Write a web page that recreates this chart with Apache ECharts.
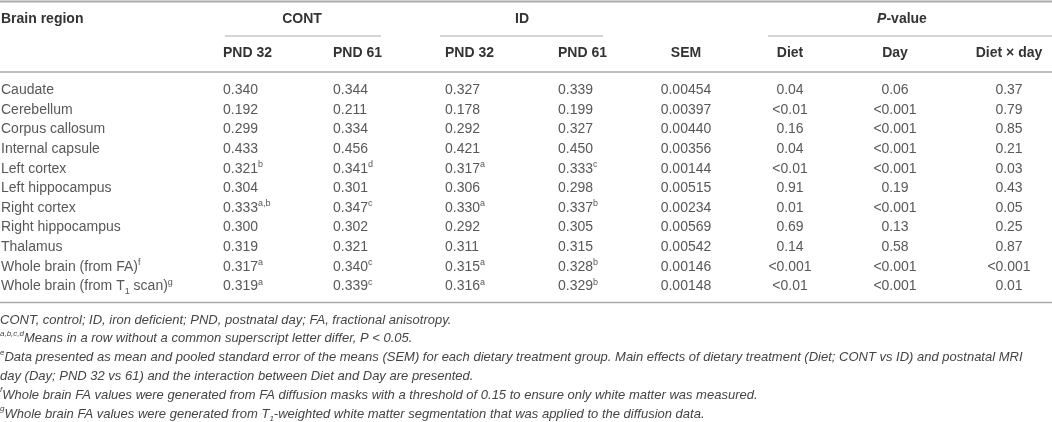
<!DOCTYPE html>
<html>
<head>
<meta charset="utf-8">
<script src="https://cdn.jsdelivr.net/npm/echarts@6/dist/echarts.min.js"></script>
<style>
html,body{margin:0;padding:0;background:#fff;}
#chart{width:1052px;height:422px;}
</style>
</head>
<body>
<div id="chart"></div>
<script>
// ---- data ----
const regions = ['Caudate','Cerebellum','Corpus callosum','Internal capsule','Left cortex','Left hippocampus','Right cortex','Right hippocampus','Thalamus','Whole brain (from FA)','Whole brain (from T1 scan)'];
const regionSup = ['','','','','','','','','','f','g'];
const contPND32 = [0.340,0.192,0.299,0.433,0.321,0.304,0.333,0.300,0.319,0.317,0.319];
const contPND32Sup = ['','','','','b','','a,b','','','a','a'];
const contPND61 = [0.344,0.211,0.334,0.456,0.341,0.301,0.347,0.302,0.321,0.340,0.339];
const contPND61Sup = ['','','','','d','','c','','','c','c'];
const idPND32 = [0.327,0.178,0.292,0.421,0.317,0.306,0.330,0.292,0.311,0.315,0.316];
const idPND32Sup = ['','','','','a','','a','','','a','a'];
const idPND61 = [0.339,0.199,0.327,0.450,0.333,0.298,0.337,0.305,0.315,0.328,0.329];
const idPND61Sup = ['','','','','c','','b','','','b','b'];
const sem = [0.00454,0.00397,0.00440,0.00356,0.00144,0.00515,0.00234,0.00569,0.00542,0.00146,0.00148];
const pDiet = ['0.04','<0.01','0.16','0.04','<0.01','0.91','0.01','0.69','0.14','<0.001','<0.01'];
const pDay = ['0.06','<0.001','<0.001','<0.001','<0.001','0.19','<0.001','0.13','0.58','<0.001','<0.001'];
const pInteraction = ['0.37','0.79','0.85','0.21','0.03','0.43','0.05','0.25','0.87','<0.001','0.01'];

const groupHeaders = ['CONT','ID','P-value'];
const subHeaders = ['PND 32','PND 61','PND 32','PND 61','SEM','Diet','Day','Diet × day'];
const firstHeader = 'Brain region';

const footnoteSups = ['', 'a,b,c,d', 'e', '', 'f', 'g'];
const footnoteTexts = [
  'CONT, control; ID, iron deficient; PND, postnatal day; FA, fractional anisotropy.',
  'Means in a row without a common superscript letter differ, P < 0.05.',
  'Data presented as mean and pooled standard error of the means (SEM) for each dietary treatment group. Main effects of dietary treatment (Diet; CONT vs ID) and postnatal MRI',
  'day (Day; PND 32 vs 61) and the interaction between Diet and Day are presented.',
  'Whole brain FA values were generated from FA diffusion masks with a threshold of 0.15 to ensure only white matter was measured.',
  'Whole brain FA values were generated from T1-weighted white matter segmentation that was applied to the diffusion data.'
];

// ---- styles / layout ----
const FONT = '"Liberation Sans", Arial, Helvetica, sans-serif';
const BODY = '#585858';
const HEAD = '#333333';
const LINE = '#ababab';
const richBody = {
  n: {fontSize:14, fontFamily:FONT, fill:BODY, lineHeight:18, verticalAlign:'middle'},
  s: {fontSize:9, fontFamily:FONT, fill:BODY, lineHeight:10, verticalAlign:'top'},
  sub: {fontSize:9, fontFamily:FONT, fill:BODY, lineHeight:8, verticalAlign:'bottom'}
};

function withSup(v, sup) {
  return '{n|' + v + '}' + (sup ? '{s|' + sup + '}' : '');
}
function subT1(str, key) {
  // render "T1" with subscript 1
  const parts = str.split('T1');
  if (parts.length === 1) return '{' + key + '|' + str + '}';
  return '{' + key + '|' + parts[0] + 'T}{sub|1}{' + key + '|' + parts[1] + '}';
}
function regionText(i) {
  return subT1(regions[i], 'n') + (regionSup[i] ? '{s|' + regionSup[i] + '}' : '');
}

const columns = [
  {x:1, align:'left', fmt:i => regionText(i)},
  {x:223, align:'left', fmt:i => withSup(contPND32[i].toFixed(3), contPND32Sup[i])},
  {x:333, align:'left', fmt:i => withSup(contPND61[i].toFixed(3), contPND61Sup[i])},
  {x:445, align:'left', fmt:i => withSup(idPND32[i].toFixed(3), idPND32Sup[i])},
  {x:558, align:'left', fmt:i => withSup(idPND61[i].toFixed(3), idPND61Sup[i])},
  {x:686, align:'center', fmt:i => withSup(sem[i].toFixed(5), '')},
  {x:790, align:'center', fmt:i => withSup(pDiet[i], '')},
  {x:895, align:'center', fmt:i => withSup(pDay[i], '')},
  {x:1009, align:'center', fmt:i => withSup(pInteraction[i], '')}
];

const series = columns.map(col => ({
  type:'custom',
  coordinateSystem:'cartesian2d',
  silent:true,
  data: regions.map((r, i) => [col.x, i]),
  encode:{x:0, y:1},
  renderItem:(params, api) => {
    const i = api.value(1);
    const p = api.coord([api.value(0), i]);
    return {
      type:'text',
      x:p[0], y:p[1],
      style:{
        text: col.fmt(i),
        rich: richBody,
        fontSize:14, fontFamily:FONT, fill:BODY,
        align: col.align, textAlign: col.align,
        verticalAlign:'middle', textVerticalAlign:'middle'
      }
    };
  }
}));

// header graphics
function txt(x, y, text, opt) {
  opt = opt || {};
  return {
    type:'text', x:x, y:y, silent:true,
    style:Object.assign({
      text:text, fontSize:14, fontFamily:FONT, fontWeight:'bold', fill:HEAD,
      align:opt.align||'left', textAlign:opt.align||'left',
      verticalAlign:'middle', textVerticalAlign:'middle'
    }, opt.style||{})
  };
}
function hline(x1, x2, y, w) {
  return {type:'line', silent:true, shape:{x1:x1, y1:y, x2:x2, y2:y}, style:{stroke:LINE, lineWidth:w||1}};
}

const graphics = [];
graphics.push(hline(0, 1052, 1.5, 2));
graphics.push(txt(1, 19, firstHeader));
graphics.push(txt(302, 19, groupHeaders[0], {align:'center'}));
graphics.push(txt(522, 19, groupHeaders[1], {align:'center'}));
graphics.push({
  type:'text', x:902, y:19, silent:true,
  style:{
    text:'{pi|' + groupHeaders[2].charAt(0) + '}{pb|' + groupHeaders[2].slice(1) + '}',
    rich:{
      pi:{fontSize:14, fontFamily:FONT, fontWeight:'bold', fontStyle:'italic', fill:HEAD},
      pb:{fontSize:14, fontFamily:FONT, fontWeight:'bold', fill:HEAD}
    },
    align:'center', textAlign:'center', verticalAlign:'middle', textVerticalAlign:'middle'
  }
});
graphics.push(hline(225, 381, 36, 1));
graphics.push(hline(440, 603, 36, 1));
graphics.push(hline(768, 1052, 36, 1));
const subX = [223, 333, 445, 558, 686, 790, 895, 1009];
const subAlign = ['left','left','left','left','center','center','center','center'];
subHeaders.forEach((h, k) => graphics.push(txt(subX[k], 53, h, {align:subAlign[k]})));
graphics.push(hline(0, 1052, 72, 1.5));
graphics.push(hline(0, 1052, 302.5, 1.5));

const FOOT = '#444444';
const richFoot = {
  i:{fontSize:13, fontFamily:FONT, fontStyle:'italic', fill:FOOT, lineHeight:18, verticalAlign:'middle'},
  s:{fontSize:8, fontFamily:FONT, fontStyle:'italic', fill:FOOT, lineHeight:10, verticalAlign:'top'},
  sub:{fontSize:8, fontFamily:FONT, fontStyle:'italic', fill:FOOT, lineHeight:8, verticalAlign:'bottom'}
};
const footY0 = 320, footStep = 18.8;
footnoteTexts.forEach((t, k) => {
  const sup = footnoteSups[k];
  const full = (sup ? '{s|' + sup + '}' : '') + subT1(t, 'i');
  graphics.push({
    type:'text', x:0, y:footY0 + k * footStep, silent:true,
    style:{text:full, rich:richFoot, fontSize:13, fontFamily:FONT, fontStyle:'italic', fill:FOOT,
      align:'left', textAlign:'left', verticalAlign:'middle', textVerticalAlign:'middle'}
  });
});

const chart = echarts.init(document.getElementById('chart'), null, {renderer:'canvas'});
chart.setOption({
  animation:false,
  backgroundColor:'#ffffff',
  grid:{left:0, right:0, top:80.2, height:216.2},
  xAxis:{type:'value', min:0, max:1052, show:false},
  yAxis:{type:'category', data:regions, inverse:true, show:false},
  series:series,
  graphic:graphics
});
</script>
</body>
</html>
